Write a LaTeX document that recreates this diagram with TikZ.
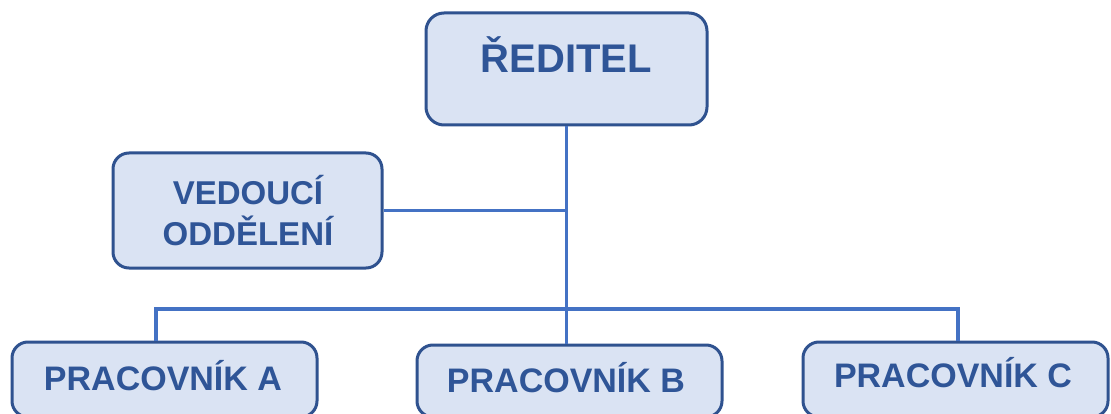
\documentclass[tikz,border=0pt]{standalone}
\usepackage{fontspec}
\setmainfont{Liberation Sans}
\definecolor{boxfill}{HTML}{DAE3F3}
\definecolor{boxline}{HTML}{2F528F}
\definecolor{txtblue}{HTML}{2F5597}
\definecolor{conn}{HTML}{4472C4}
\tikzset{
  orgbox/.style={draw=boxline, fill=boxfill, line width=3pt, rounded corners=16pt, inner sep=0pt},
  lbl/.style={text=txtblue, font=\bfseries, inner sep=0pt, anchor=base},
  connector/.style={draw=conn, line width=3.2pt},
}
\begin{document}
\begin{tikzpicture}[x=1pt,y=-1pt]
\clip (0,0) rectangle (1111,414);
\fill[white] (0,0) rectangle (1111,414);
% boxes
\node[orgbox, rounded corners=18pt, minimum width=281pt, minimum height=112pt] (r) at (566.5,69) {};
\node[orgbox, minimum width=269pt, minimum height=115pt] (v) at (247.5,210.5) {};
\node[orgbox, minimum width=305pt, minimum height=75pt] (a) at (164.5,379.5) {};
\node[orgbox, minimum width=305pt, minimum height=72pt] (b) at (569.5,381) {};
\node[orgbox, minimum width=305pt, minimum height=75pt] (c) at (955.5,379.5) {};
% labels
\node[lbl, font=\bfseries\fontsize{40}{44}\selectfont] (tr) at (566.5,73) {ŘEDITEL};
\node[lbl, font=\bfseries\fontsize{33}{39}\selectfont] (tv1) at (248,205) {VEDOUCÍ};
\node[lbl, font=\bfseries\fontsize{33}{39}\selectfont] (tv2) at (248,245) {ODDĚLENÍ};
\node[lbl, font=\bfseries\fontsize{34}{40}\selectfont] (ta) at (163,390) {PRACOVNÍK A};
\node[lbl, font=\bfseries\fontsize{34}{40}\selectfont] (tb) at (566,392) {PRACOVNÍK B};
\node[lbl, font=\bfseries\fontsize{34}{40}\selectfont] (tc) at (953,387) {PRACOVNÍK C};
% connectors
\coordinate (ja) at (156,309);
\coordinate (jc) at (958,309);
\draw[connector] (r.south) -- (r.south |- b.north);
\draw[connector] (v.east) -- (v.east -| r.south);
\draw[connector] (ja |- a.north) -- (ja) -- (jc) -- (jc |- c.north);
\end{tikzpicture}
\end{document}
